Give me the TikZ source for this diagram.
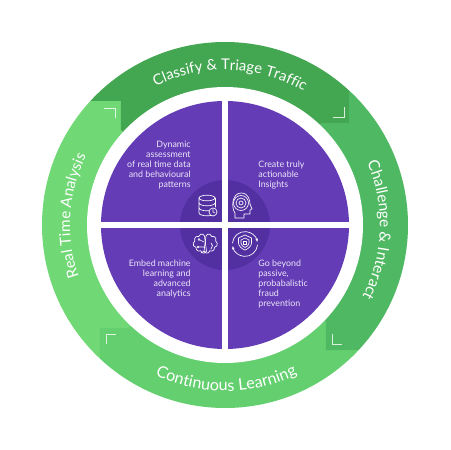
\documentclass[tikz,border=0pt]{standalone}
\usepackage{fontspec}
\setmainfont{Lato}
\usepackage{xcolor}
\usetikzlibrary{positioning,arrows.meta,decorations.text}
\definecolor{ringtop}{HTML}{43A651}
\definecolor{ringright}{HTML}{4FB862}
\definecolor{ringbottom}{HTML}{63CF6E}
\definecolor{ringleft}{HTML}{70D975}
\definecolor{quad}{HTML}{633CB6}
\definecolor{hub}{HTML}{5230A2}
\definecolor{pale}{HTML}{EDE6F8}
\tikzset{
  corner/.style={draw=white,opacity=0.8,line width=0.45pt},
  gap/.style={draw=white,line width=6.5*0.02cm},
  quadtext/.style={font=\fontsize{5.05}{5.67}\selectfont,text=pale,inner sep=0pt},
  icon/.style={draw=white,line width=0.38pt,line join=round,line cap=round}
}
\newcommand{\ringtext}[5]{%
  \path[decorate,decoration={text along path,text align=center,
    text={|\fontsize{#4}{10}\selectfont\color{white}|#5}}]
    (#1:#3) arc[start angle=#1,end angle=#2,radius=#3];}
\begin{document}
\begin{tikzpicture}[x=0.02cm,y=0.02cm]
  \useasboundingbox[fill=white] (-225,-225) rectangle (225,225);
  \begin{scope}
    \clip (0,0) circle (183);
    \fill[ringleft] (-135,124)--(-104,124)--(-104,95)--(0,0)--(-98,-103)--(-125,-103)--(-125,-225)--(-225,-225)--(-225,124)--cycle;
    \fill[ringbottom] (-125,-103)--(-98,-103)--(0,0)--(101,-97)--(101,-125)--(225,-125)--(225,-225)--(-125,-225)--cycle;
    \fill[ringright] (101,-97)--(101,-125)--(225,-125)--(225,225)--(124,225)--(124,102)--(97,102)--(0,0)--cycle;
    \fill[ringtop] (124,102)--(97,102)--(0,0)--(-104,95)--(-104,124)--(-225,124)--(-225,225)--(124,225)--cycle;
  \end{scope}
  \fill[white] (0,0) circle (138);
  \draw[corner] (-121,117)--(-110,117)--(-110,107);
  \draw[corner] (108,108)--(119,108)--(119,118);
  \draw[corner] (107,-109)--(107,-119)--(117,-119);
  \draw[corner] (-109,-109)--(-119,-109)--(-119,-119);
  \ringtext{118}{58}{155}{8.4}{Classify {\&} Triage Traffic}
  \ringtext{28}{-32}{155}{8.8}{Challenge {\&} Interact}
  \ringtext{205}{148}{155}{8.7}{Real Time Analysis}
  \ringtext{240}{301}{166}{9.2}{Continuous Learning}
  \fill[quad] (0,0) circle (124);
  \fill[hub] (0,0) circle (45);
  \draw[gap] (-125,0)--(125,0);
  \draw[gap] (0,-125)--(0,125);
  \node[quadtext,anchor=east,align=right] (assess) at (-34,60) {Dynamic\\assessment\\of real time data\\and behavioural\\patterns};
  \node[quadtext,anchor=west,align=left] (insight) at (33,50) {Create truly\\actionable\\Insights};
  \node[quadtext,anchor=east,align=right] (embed) at (-34,-54) {Embed machine\\learning and\\advanced\\analytics};
  \node[quadtext,anchor=west,align=left] (beyond) at (33,-59) {Go beyond\\passive,\\probabalistic\\fraud\\prevention};
  % database
  \draw[icon] (-26,27) arc[start angle=180,end angle=-180,x radius=8,y radius=2.8];
  \draw[icon] (-26,27)--(-26,12) arc[start angle=180,end angle=360,x radius=8,y radius=2.8];
  \draw[icon] (-10,27)--(-10,18);
  \draw[icon] (-26,22) arc[start angle=180,end angle=360,x radius=8,y radius=2.8];
  \draw[icon] (-26,17) arc[start angle=180,end angle=360,x radius=8,y radius=2.8];
  \draw[icon,fill=hub] (-12,13) circle (4);
  \draw[icon] (-12,15.5)--(-12,13)--(-10,12);
  % head
  \draw[icon] (10,7)--(10,12) .. controls (6,17) and (7,32) .. (16,32) .. controls (24,32) and (25,24) .. (25,21) -- (27,16) -- (25,15) -- (25,11) -- (19,11) -- (19,7) -- cycle;
  \draw[icon] (16,22) circle (7.5);
  \draw[icon] (16,22) circle (5);
  \draw[icon] (16,22) circle (2);
  % brain
  \draw[icon] (-20.5,-11) arc[start angle=20,end angle=170,radius=3] arc[start angle=70,end angle=210,radius=3.2] arc[start angle=120,end angle=260,radius=3.4] arc[start angle=170,end angle=300,radius=3.2] arc[start angle=190,end angle=340,radius=3] -- cycle;
  \draw[icon] (-19,-11) arc[start angle=160,end angle=10,radius=3] arc[start angle=110,end angle=-30,radius=3.2] arc[start angle=60,end angle=-80,radius=3.4] arc[start angle=10,end angle=-120,radius=3.2] arc[start angle=-10,end angle=-160,radius=3] -- cycle;
  \draw[icon] (-21,-17)--(-25,-15) (-21,-22)--(-26,-22) (-21,-26)--(-24,-28);
  \draw[icon] (-26,-14.5) circle (1) (-27,-22) circle (1);
  \draw[icon] (-14,-18) .. controls (-12,-19) and (-12,-22) .. (-14,-24);
  % shield
  \draw[icon,-{Stealth[length=2pt]}] (7.5,-18) arc[start angle=175,end angle=10,radius=12.5];
  \draw[icon,-{Stealth[length=2pt]}] (32.5,-20) arc[start angle=-5,end angle=-170,radius=12.5];
  \draw[icon] (13.5,-13)--(20,-10)--(26.5,-13)--(26.5,-18) .. controls (26.5,-21) and (23,-24) .. (20,-25) .. controls (17,-24) and (13.5,-21) .. (13.5,-18)--cycle;
  \draw[icon] (16,-15)--(20,-13)--(24,-15)--(24,-18) .. controls (24,-20) and (22,-21.5) .. (20,-22.5) .. controls (18,-21.5) and (16,-20) .. (16,-18)--cycle;
  \draw[icon] (18.5,-16) rectangle (21.5,-19.5);
\end{tikzpicture}
\end{document}
